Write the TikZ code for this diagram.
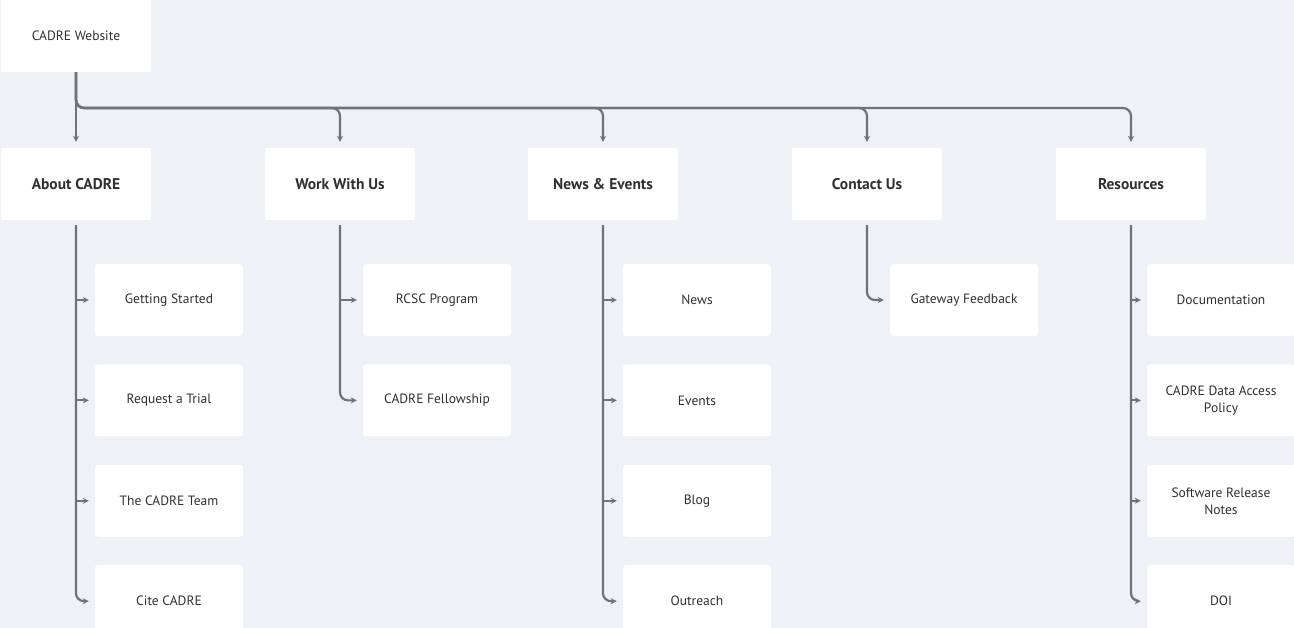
\documentclass[tikz,border=0pt]{standalone}
\usepackage{fontspec}
\setmainfont{PT Sans}
\usetikzlibrary{arrows.meta,positioning,calc}
\definecolor{pagebg}{HTML}{EEF1F5}
\definecolor{linkgrey}{HTML}{6E737A}
\definecolor{textgrey}{HTML}{2E3035}

\begin{document}
\begin{tikzpicture}[
    x=1pt, y=-1pt,
    top/.style={fill=white, rounded corners=2pt, align=center, minimum width=150pt, minimum height=72pt, text=textgrey, font=\fontsize{13.5}{16}\selectfont},
    section/.style={top, font=\bfseries\fontsize{15.5}{18}\selectfont},
    item/.style={fill=white, rounded corners=3pt, align=center, minimum width=148pt, minimum height=72pt, text=textgrey, font=\fontsize{13.5}{17}\selectfont},
    line/.style={draw=linkgrey, line width=2.2pt},
    arrow/.style={line, -{Stealth[length=6pt, width=6pt]}, shorten >=6pt}
]
\useasboundingbox[fill=pagebg] (0,0) rectangle (1294,628);
\node[top] (root) at (76,36) {CADRE Website};
\node[section] (about) at (76,184) {About CADRE};
\node[section] (work) at (340,184) {Work With Us};
\node[section] (news) at (603,184) {News \& Events};
\node[section] (contact) at (867,184) {Contact Us};
\node[section] (res) at (1131,184) {Resources};
% About CADRE
\node[item] (start) at (169,300) {Getting Started};
\node[item, below=28pt of start] (trial) {Request a Trial};
\node[item, below=28pt of trial] (team) {The CADRE Team};
\node[item, below=28pt of team] (cite) {Cite CADRE};
% Work With Us
\node[item] (rcsc) at (437,300) {RCSC Program};
\node[item, below=28pt of rcsc] (fellow) {CADRE Fellowship};
% News & Events
\node[item] (newsitem) at (697,300) {News};
\node[item, below=28pt of newsitem] (events) {Events};
\node[item, below=28pt of events] (blog) {Blog};
\node[item, below=28pt of blog] (outreach) {Outreach};
% Contact Us
\node[item] (feedback) at (964,300) {Gateway Feedback};
% Resources
\node[item] (docs) at (1221,300) {Documentation};
\node[item, below=28pt of docs] (policy) {CADRE Data Access\\Policy};
\node[item, below=28pt of policy] (notes) {Software Release\\Notes};
\node[item, below=28pt of notes] (doi) {DOI};
\coordinate (bus) at (76,108);
\draw[arrow, shorten <=6pt] (root) -- (about);
\foreach \n in {work,news,contact,res}
    \draw[arrow, rounded corners=8pt] (root.south) |- (\n.north |- bus) -- (\n.north);
% trunks
\draw[arrow, shorten <=5pt, rounded corners=8pt] (about.south) |- (cite.west);
\draw[arrow, shorten <=5pt, rounded corners=8pt] (work.south) |- (fellow.west);
\draw[arrow, shorten <=5pt, rounded corners=8pt] (news.south) |- (outreach.west);
\draw[arrow, shorten <=5pt, rounded corners=8pt] (contact.south) |- (feedback.west);
\draw[arrow, shorten <=5pt, rounded corners=8pt] (res.south) |- (doi.west);
% branches
\foreach \p/\c in {about/start,about/trial,about/team,work/rcsc,news/newsitem,news/events,news/blog,res/docs,res/policy,res/notes}
    \draw[arrow] (\p.south |- \c.west) -- (\c.west);
\end{tikzpicture}
\end{document}
